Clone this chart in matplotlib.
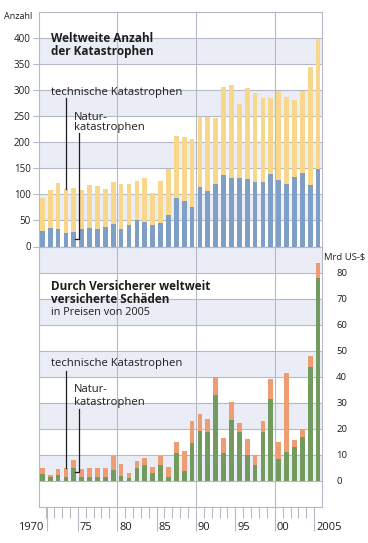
import matplotlib.pyplot as plt
import numpy as np

plt.rcParams['font.family'] = ['Open Sans', 'DejaVu Sans']

# Daten
years = np.arange(1970, 2006)
natur_anzahl = [30, 36, 34, 25, 28, 34, 36, 34, 37, 43, 34, 42, 50, 48, 41, 46, 61, 94,
                88, 75, 114, 106, 120, 137, 132, 131, 129, 124, 124, 139, 127, 121, 134, 142,
                118, 148]
technik_anzahl = [63, 73, 88, 85, 84, 74, 82, 83, 73, 80, 86, 78, 75, 84, 62, 79, 87, 118,
                  123, 131, 134, 143, 127, 170, 179, 143, 176, 170, 162, 147, 172, 166, 147,
                  157, 226, 251]
natur_schaden = [2.5, 1.4, 2.3, 1.5, 5.1, 1.5, 1.5, 1.5, 1.7, 4.1, 1.8, 1.0, 4.8, 6.0, 3.0,
                 6.1, 1.5, 10.8, 4.0, 14.4, 19.2, 18.6, 33.0, 10.8, 23.3, 18.8, 9.9, 6.0, 18.8,
                 31.3, 8.6, 11.2, 13.1, 16.9, 43.9, 77.8]
technik_schaden = [2.5, 0.7, 2.3, 3.3, 3.0, 2.9, 3.5, 3.3, 3.3, 5.4, 4.6, 2.1, 3.0, 2.9, 2.4,
                   3.5, 3.9, 4.0, 7.4, 8.7, 6.5, 5.1, 7.0, 5.5, 7.1, 3.5, 6.1, 3.9, 4.2, 7.7,
                   6.4, 30.1, 2.6, 2.9, 4.1, 5.8]
tick_labels = ['1970', '75', '80', '85', '90', '95', '00', '2005']
label_pos = [1970.6, 1974.5, 1979.5, 1984.5, 1989.5, 1994.5, 1999.5, 2004.5]

GELB = '#f8d68b'
BLAU = '#809fc6'
GRUEN = '#739b5f'
ORANGE = '#ee9c72'
BAND = '#eaedf6'
GRID = '#b5b9c5'
TXT = '#1e1e1e'

W, H = 368, 543
fig = plt.figure(figsize=(W / 100, H / 100), dpi=100)
ax1 = fig.add_axes([39 / W, 1 - 246.5 / H, (322.3 - 39) / W, (246.5 - 12.3) / H])
ax2 = fig.add_axes([39 / W, 1 - 507 / H, (322.3 - 39) / W, (507 - 246.5) / H])

XLIM = (1969.58, 2005.53)

def grundgeruest(ax, ymin, ymax, step, shaded):
    ax.set_xlim(*XLIM)
    ax.set_ylim(ymin, ymax)
    for lo in shaded:
        ax.axhspan(lo, lo + step, color=BAND, lw=0, zorder=0)
    for y in np.arange(ymin, ymax + step / 2, step):
        ax.axhline(y, color=GRID, lw=0.8, zorder=1)
    for x in [1979.5, 1989.5, 1999.5]:
        ax.axvline(x, color=GRID, lw=0.8, zorder=1)
    for s in ax.spines.values():
        s.set_color(GRID)
        s.set_linewidth(0.8)

# oberes Diagramm: Anzahl
grundgeruest(ax1, 0, 450, 50, [50, 150, 250, 350])
ax1.bar(years, natur_anzahl, width=0.6, color=BLAU, zorder=3)
ax1.bar(years, technik_anzahl, width=0.6, bottom=natur_anzahl, color=GELB, zorder=3)
ax1.set_xticks([])
ax1.set_yticks(np.arange(0, 401, 50))
ax1.tick_params(axis='y', length=4, color=GRID, pad=2, labelsize=7, labelcolor=TXT)

ax1.text(1971.1, 393, 'Weltweite Anzahl', fontsize=8.5, fontweight='bold', color=TXT, va='baseline')
ax1.text(1971.1, 368, 'der Katastrophen', fontsize=8.5, fontweight='bold', color=TXT, va='baseline')
ax1.text(1971.1, 292, 'technische Katastrophen', fontsize=8.1, color=TXT, va='baseline')
ax1.text(1974.0, 244, 'Natur-', fontsize=8.1, color=TXT, va='baseline')
ax1.text(1974.0, 224, 'katastrophen', fontsize=8.1, color=TXT, va='baseline')
gesamt73 = natur_anzahl[3] + technik_anzahl[3]
ax1.plot([1973, 1973], [286, gesamt73], color=TXT, lw=0.9, zorder=4)
ax1.plot([1974.6, 1974.6, 1974.1], [219, 15, 15], color=TXT, lw=0.9, zorder=4)

fig.text(32 / W, 1 - 16.5 / H, 'Anzahl', fontsize=6.5, color=TXT, ha='right', va='center')

# unteres Diagramm: versicherte Schaeden
grundgeruest(ax2, -10, 90, 10, [0, 20, 40, 60, 80])
ax2.bar(years, natur_schaden, width=0.6, color=GRUEN, zorder=3)
ax2.bar(years, technik_schaden, width=0.6, bottom=natur_schaden, color=ORANGE, zorder=3)
ax2.yaxis.tick_right()
ax2.set_yticks(np.arange(0, 81, 10))
ax2.tick_params(axis='y', length=0, pad=10, labelsize=6.8, labelcolor=TXT)
ax2.set_xticks(label_pos)
ax2.set_xticklabels([])
ax2.set_xticks([y - 0.5 for y in range(1971, 2005) if (y - 0.5) not in label_pos], minor=True)
ax2.tick_params(axis='x', which='major', length=17, width=0.8, color=GRID, direction='out')
ax2.tick_params(axis='x', which='minor', length=8, width=0.8, color=GRID, direction='out')

trans = ax2.get_xaxis_transform()
for lab, pos in zip(tick_labels, label_pos):
    if lab == '1970':
        ax2.text(pos - 0.45, -0.077, lab, transform=trans, fontsize=8, color=TXT, ha='right', va='center')
    else:
        ax2.text(pos + 0.25, -0.077, lab, transform=trans, fontsize=8, color=TXT, ha='left', va='center')

ax2.text(1971.1, 73.3, 'Durch Versicherer weltweit', fontsize=8.5, fontweight='bold', color=TXT, va='baseline')
ax2.text(1971.1, 68.3, 'versicherte Schäden', fontsize=8.5, fontweight='bold', color=TXT, va='baseline')
ax2.text(1971.1, 63.6, 'in Preisen von 2005', fontsize=7.8, color=TXT, va='baseline')
ax2.text(1971.1, 44.1, 'technische Katastrophen', fontsize=8.1, color=TXT, va='baseline')
ax2.text(1974.0, 34.1, 'Natur-', fontsize=8.1, color=TXT, va='baseline')
ax2.text(1974.0, 29.3, 'katastrophen', fontsize=8.1, color=TXT, va='baseline')
summe73 = natur_schaden[3] + technik_schaden[3]
ax2.plot([1973, 1973], [42.3, summe73], color=TXT, lw=0.9, zorder=4)
ax2.plot([1974.6, 1974.6, 1974.1], [27.6, 3.5, 3.5], color=TXT, lw=0.9, zorder=4)

fig.text(324.5 / W, 1 - 257 / H, 'Mrd US-$', fontsize=6.8, color=TXT, ha='left', va='center')

fig.savefig('out.png', dpi=100)
plt.close(fig)
